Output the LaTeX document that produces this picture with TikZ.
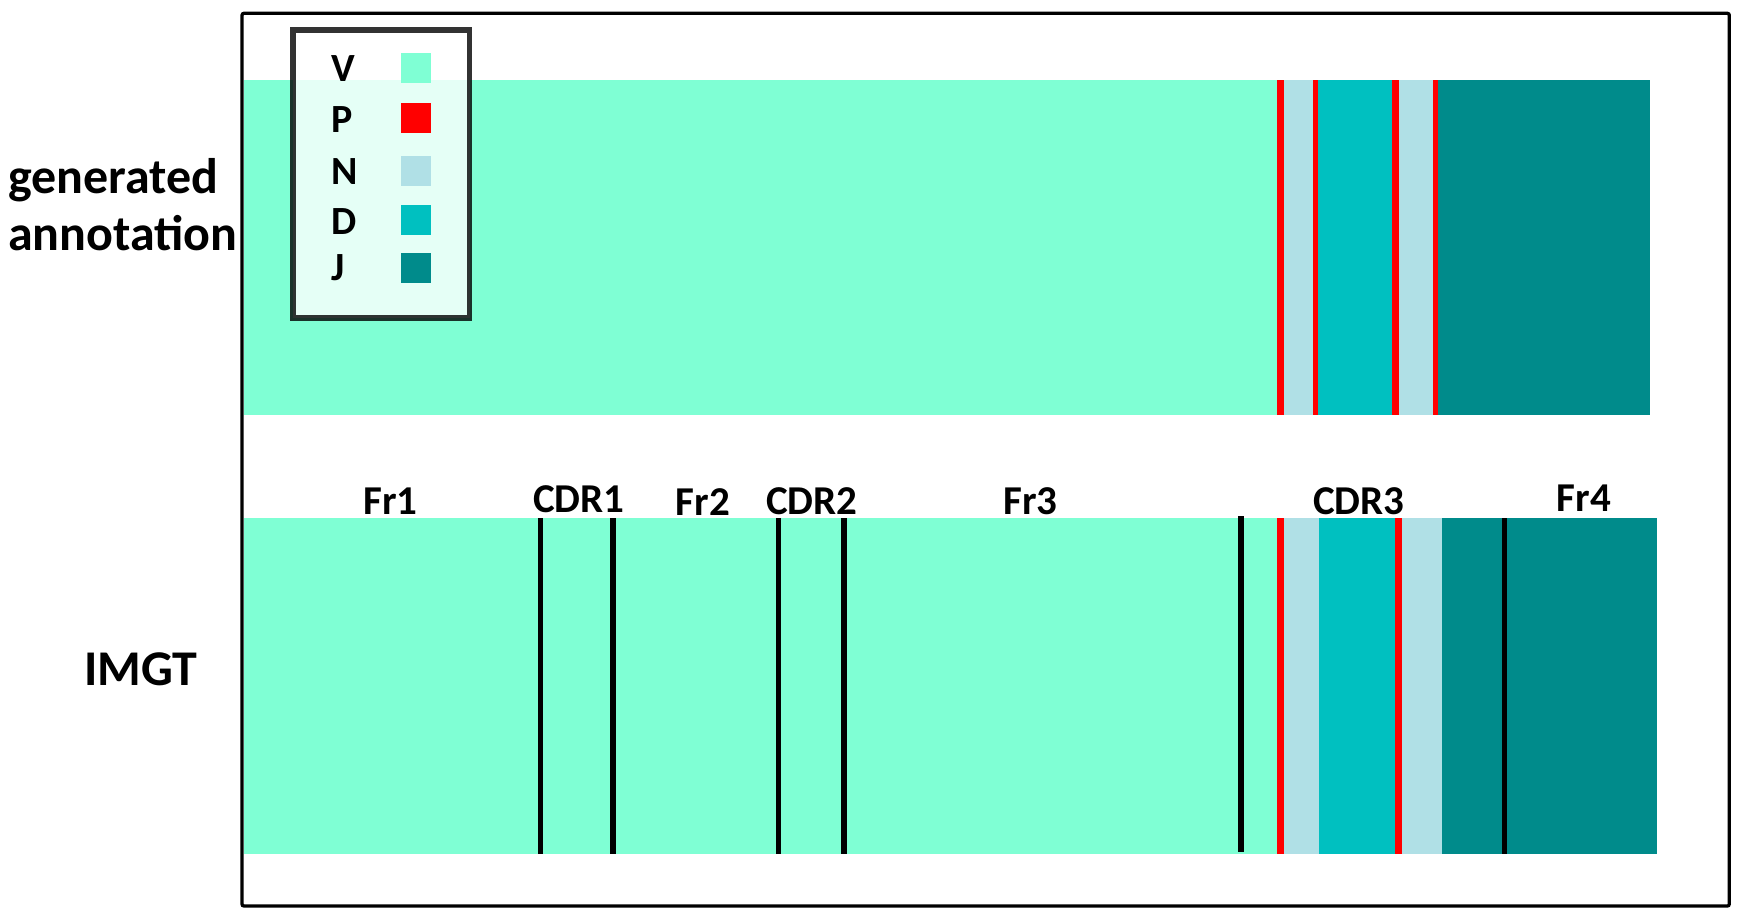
\documentclass[tikz,border=0pt]{standalone}
\usepackage{fontspec}
\setmainfont{Carlito}
\usepackage{tikz}
\usetikzlibrary{positioning}
\definecolor{segV}{HTML}{7FFFD4}
\definecolor{segP}{HTML}{FF0000}
\definecolor{segN}{HTML}{B0E0E6}
\definecolor{segD}{HTML}{00C0C0}
\definecolor{segJ}{HTML}{008B8B}
\tikzset{
  sidelab/.style = {anchor=base west, inner sep=0pt, font=\fontsize{50}{60}\selectfont\bfseries},
  reglab/.style = {anchor=base, inner sep=0pt, font=\fontsize{41}{49}\selectfont\bfseries},
  keylab/.style = {anchor=base west, inner sep=0pt, font=\fontsize{40}{48}\selectfont\bfseries},
  cut/.style = {line width=5.5pt, black}
}
\begin{document}
\begin{tikzpicture}[x=1pt, y=-1pt]
        \useasboundingbox (0,0) rectangle (1744,912);
        % generated annotation bar
        \fill [segV] (243.7,80) rectangle (1277.3,415);
        \fill [segN] (1284,80) rectangle (1313.3,415);
        \fill [segD] (1317.3,80) rectangle (1391.7,415);
        \fill [segN] (1398.3,80) rectangle (1432.7,415);
        \fill [segJ] (1437.3,80) rectangle (1650,415);
        \fill [segP] (1277,80) rectangle (1284,415);
        \fill [segP] (1313,80) rectangle (1317.5,415);
        \fill [segP] (1391.5,80) rectangle (1398.5,415);
        \fill [segP] (1432.5,80) rectangle (1437.5,415);
        % IMGT bar
        \fill [segV] (243.7,518) rectangle (1277,854);
        \fill [segP] (1277,518) rectangle (1284,854);
        \fill [segN] (1284,518) rectangle (1319.3,854);
        \fill [segD] (1319.3,518) rectangle (1395,854);
        \fill [segP] (1395,518) rectangle (1401.7,854);
        \fill [segN] (1401.7,518) rectangle (1442.3,854);
        \fill [segJ] (1442.3,518) rectangle (1657,854);
        \draw [cut] (540.5,518) -- (540.5,854);
        \draw [cut] (613,518) -- (613,854);
        \draw [cut] (778.5,518) -- (778.5,854);
        \draw [cut] (844,518) -- (844,854);
        \draw [cut] (1241,516) -- (1241,852);
        \draw [cut] (1504.5,518) -- (1504.5,854);
        % frame
        \draw [line width=3.3pt, rounded corners=2pt] (242,13.3) rectangle (1729.3,906);
        % legend
        \draw [line width=5.5pt, fill=white, opacity=0.8] (293,29.8) rectangle (469.5,318);
        \fill [segV] (401,52.7) rectangle (431,82.7);
        \fill [segP] (401,102.7) rectangle (431,132.7);
        \fill [segN] (401,155.7) rectangle (431,185.7);
        \fill [segD] (401,205) rectangle (431,235);
        \fill [segJ] (401,252.7) rectangle (431,282.7);
        \node (keyV) [keylab] at (331,81.7) {V};
        \node (keyP) [keylab] at (331,132.7) {P};
        \node (keyN) [keylab] at (331,185) {N};
        \node (keyD) [keylab] at (331,234) {D};
        \node (keyJ) [keylab] at (331,280) {J};
        % row names
        \node (gen) [sidelab] at (8,193.3) {generated};
        \node (annot) [sidelab] at (8,250) {annotation};
        \node (imgt) [sidelab] at (84,685) {IMGT};
        % regions
        \node (fr1) [reglab] at (390.7,514) {Fr1};
        \node (cdr1) [reglab] at (578.8,512.3) {CDR1};
        \node (fr2) [reglab] at (703,515) {Fr2};
        \node (cdr2) [reglab] at (811.7,514.3) {CDR2};
        \node (fr3) [reglab] at (1030.6,514) {Fr3};
        \node (cdr3) [reglab] at (1358.7,514.3) {CDR3};
        \node (fr4) [reglab] at (1584,511) {Fr4};
      \end{tikzpicture}
\end{document}
